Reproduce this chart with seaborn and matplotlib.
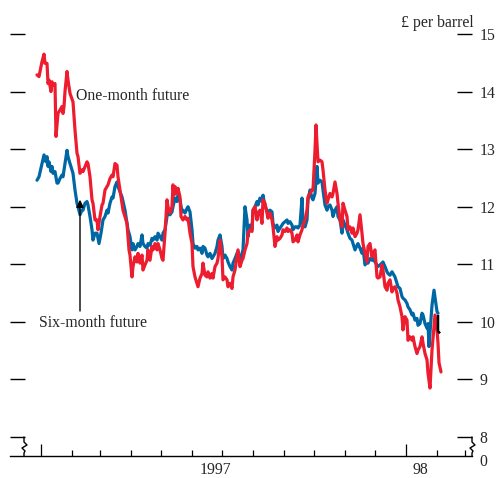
import numpy as np
import pandas as pd
import seaborn as sns
import matplotlib.pyplot as plt
import matplotlib.transforms as mtransforms

# days counted from 1 January 1997, prices in £ per barrel
one_month_days = [-4, -2, 1, 3, 4, 6, 7, 8, 10, 11, 12, 14, 15, 17, 19, 21, 22, 23, 24, 26,
                  27, 29, 32, 34, 36, 37, 39, 41, 42, 46, 47, 49, 51, 52, 54, 56, 57, 59, 61, 62,
                  64, 66, 67, 69, 71, 72, 74, 76, 77, 79, 82, 86, 88, 89, 91, 92, 94, 96, 97, 99,
                  101, 102, 104, 106, 107, 109, 111, 112, 114, 116, 117, 119, 121, 122, 124, 125, 126, 127, 129, 131,
                  132, 133, 134, 136, 137, 139, 140, 142, 144, 146, 147, 149, 151, 152, 154, 156, 157, 159, 161, 162,
                  164, 166, 167, 169, 171, 172, 174, 176, 177, 179, 181, 182, 184, 186, 187, 189, 191, 192, 194, 196,
                  197, 199, 201, 202, 204, 206, 207, 209, 211, 212, 214, 216, 217, 219, 221, 222, 224, 226, 227, 229,
                  231, 232, 234, 236, 237, 239, 241, 242, 244, 246, 247, 249, 251, 252, 254, 256, 257, 259, 261, 262,
                  264, 266, 267, 269, 271, 272, 274, 275, 277, 279, 281, 282, 284, 286, 287, 289, 291, 292, 294, 296,
                  297, 299, 301, 302, 304, 306, 307, 309, 311, 312, 314, 316, 317, 319, 321, 322, 324, 326, 327, 329,
                  331, 332, 334, 336, 337, 339, 341, 342, 344, 346, 347, 349, 351, 352, 354, 356, 357, 359, 361, 362,
                  364, 366, 367, 369, 371, 372, 374, 376, 377, 379, 381, 382, 384, 386, 387, 389, 391, 394, 396, 397,
                  398, 400]
one_month = [14.29, 14.26, 14.52, 14.65, 14.49, 14.49, 14.14, 14.20, 14.00, 14.17, 14.11, 14.14, 13.22, 13.62, 13.68, 13.74, 13.62, 13.74, 14.00, 14.35,
             14.20, 13.97, 13.82, 13.33, 12.93, 12.87, 12.58, 12.64, 12.61, 12.78, 12.75, 12.52, 12.12, 12.06, 11.77, 11.77, 11.60, 11.83, 12.03, 12.06,
             12.29, 12.35, 12.38, 12.49, 12.55, 12.52, 12.75, 12.72, 12.52, 12.29, 11.94, 11.71, 11.25, 11.16, 10.78, 10.96, 11.13, 11.04, 11.19, 11.02,
             11.16, 10.90, 10.99, 11.07, 11.25, 11.07, 11.31, 11.25, 11.36, 11.25, 11.36, 11.25, 11.10, 11.07, 11.54, 11.83, 12.12, 12.00, 11.89, 12.00,
             12.38, 12.20, 12.35, 12.23, 12.32, 12.17, 11.83, 11.77, 11.83, 11.77, 11.80, 11.54, 11.36, 10.96, 10.78, 10.67, 10.61, 10.76, 10.84, 11.02,
             10.81, 10.78, 10.87, 10.76, 10.84, 10.76, 10.96, 11.02, 11.10, 11.42, 11.13, 10.73, 10.78, 10.73, 10.61, 10.67, 10.58, 10.78, 10.90, 11.13,
             11.25, 10.96, 11.07, 11.10, 11.25, 11.36, 11.54, 11.60, 11.57, 11.94, 12.00, 11.77, 11.89, 11.94, 11.71, 12.12, 12.06, 11.89, 11.80, 11.89,
             11.77, 11.65, 11.31, 11.48, 11.42, 11.45, 11.51, 11.60, 11.57, 11.63, 11.57, 11.60, 11.54, 11.39, 11.42, 11.51, 11.39, 11.51, 11.60, 11.68,
             11.77, 11.94, 12.17, 12.23, 12.29, 12.29, 12.98, 13.42, 12.78, 12.81, 12.78, 12.64, 12.29, 12.06, 12.12, 12.23, 12.17, 12.23, 12.43, 12.23,
             12.06, 11.77, 11.65, 12.06, 11.94, 11.83, 11.60, 11.65, 11.54, 11.63, 11.48, 11.54, 11.60, 11.86, 11.54, 11.36, 11.19, 11.04, 11.31, 11.36,
             11.13, 11.19, 11.25, 10.78, 10.76, 10.78, 10.99, 10.90, 10.61, 10.55, 10.67, 10.73, 10.52, 10.58, 10.61, 10.50, 10.38, 10.26, 10.09, 9.86,
             10.09, 10.03, 9.68, 9.74, 9.68, 9.74, 9.57, 9.45, 9.51, 9.57, 9.74, 9.63, 9.45, 9.34, 9.11, 8.85, 9.51, 10.12, 9.86, 9.63,
             9.29, 9.13]

six_month_days = [-4, -2, 1, 3, 5, 6, 7, 8, 10, 11, 12, 14, 16, 17, 19, 21, 22, 24, 26, 27,
                  29, 32, 34, 36, 37, 39, 41, 42, 44, 46, 47, 49, 51, 52, 54, 56, 58, 60, 62, 64,
                  66, 67, 69, 71, 72, 74, 76, 77, 81, 84, 87, 89, 91, 92, 94, 96, 97, 99, 101, 102,
                  104, 106, 107, 109, 111, 112, 114, 116, 117, 119, 121, 122, 124, 126, 127, 129, 131, 132, 134, 136,
                  137, 139, 141, 142, 144, 146, 147, 149, 151, 152, 154, 156, 157, 159, 161, 162, 164, 166, 167, 169,
                  171, 172, 174, 176, 177, 179, 181, 182, 184, 186, 187, 189, 191, 192, 194, 196, 197, 199, 201, 202,
                  204, 206, 207, 209, 211, 212, 214, 216, 217, 219, 221, 222, 224, 226, 227, 229, 231, 232, 234, 236,
                  237, 239, 241, 242, 244, 246, 247, 249, 251, 252, 254, 256, 257, 259, 261, 262, 264, 266, 267, 269,
                  271, 272, 274, 276, 277, 279, 281, 282, 284, 286, 287, 289, 291, 292, 294, 296, 297, 299, 301, 302,
                  304, 306, 307, 309, 311, 312, 314, 316, 317, 319, 321, 322, 324, 326, 327, 329, 331, 332, 334, 337,
                  341, 342, 344, 346, 347, 349, 351, 352, 354, 356, 357, 359, 361, 362, 364, 366, 367, 369, 371, 372,
                  374, 376, 377, 379, 381, 382, 384, 386, 387, 388, 391, 393, 396, 397]
six_month = [12.46, 12.52, 12.75, 12.90, 12.78, 12.87, 12.70, 12.78, 12.61, 12.70, 12.58, 12.61, 12.41, 12.41, 12.49, 12.55, 12.52, 12.75, 12.98, 12.87,
             12.75, 12.58, 12.29, 12.06, 12.00, 11.86, 11.94, 11.94, 12.06, 12.09, 12.03, 11.83, 11.60, 11.42, 11.54, 11.54, 11.36, 11.54, 11.77, 11.83,
             11.94, 11.89, 12.06, 12.17, 12.15, 12.35, 12.43, 12.35, 12.17, 11.94, 11.60, 11.48, 11.25, 11.36, 11.25, 11.31, 11.36, 11.31, 11.51, 11.36,
             11.31, 11.28, 11.36, 11.33, 11.45, 11.42, 11.48, 11.42, 11.54, 11.48, 11.42, 11.54, 11.60, 11.83, 11.89, 11.86, 11.91, 12.00, 12.15, 12.09,
             12.20, 12.12, 11.91, 11.94, 11.89, 11.97, 12.00, 11.91, 11.60, 11.36, 11.28, 11.31, 11.25, 11.28, 11.19, 11.31, 11.28, 11.16, 11.13, 11.19,
             11.10, 11.13, 11.19, 11.31, 11.42, 11.51, 11.31, 11.10, 11.16, 11.10, 11.04, 10.96, 10.90, 11.02, 11.10, 11.19, 11.22, 11.07, 11.19, 11.25,
             12.00, 11.77, 11.48, 11.68, 11.60, 11.94, 12.00, 12.09, 12.03, 12.15, 12.09, 12.20, 12.00, 11.94, 11.86, 11.94, 11.91, 11.71, 11.63, 11.68,
             11.57, 11.63, 11.68, 11.71, 11.74, 11.77, 11.71, 11.74, 11.68, 11.60, 11.65, 11.65, 11.63, 11.68, 12.15, 11.71, 11.65, 11.77, 12.12, 12.29,
             12.15, 12.12, 12.23, 12.70, 12.41, 12.46, 12.43, 12.29, 12.03, 11.94, 12.00, 12.03, 11.94, 11.83, 11.94, 12.00, 11.83, 11.77, 11.54, 11.77,
             11.68, 11.60, 11.54, 11.45, 11.42, 11.36, 11.25, 11.33, 11.36, 11.28, 11.19, 11.28, 10.99, 11.04, 11.02, 11.10, 11.07, 11.10, 11.04, 10.96,
             11.02, 11.04, 10.96, 10.87, 10.84, 10.81, 10.87, 10.84, 10.78, 10.67, 10.61, 10.58, 10.44, 10.41, 10.38, 10.32, 10.26, 10.21, 10.12, 10.15,
             10.03, 10.06, 9.94, 9.97, 10.15, 10.12, 9.97, 9.89, 9.97, 9.57, 10.29, 10.55, 10.18, 10.15]

# small black marker at the end of the series
mark_days = [397, 397, 399]
mark_vals = [10.12, 9.84, 9.80]

y_ticks = [8, 9, 10, 11, 12, 13, 14, 15]
start = pd.Timestamp("1997-01-01")

def to_dates(days):
    return start + pd.to_timedelta(days, unit="D")

df = pd.concat([
    pd.DataFrame({"date": to_dates(one_month_days), "price": one_month, "series": "One-month future"}),
    pd.DataFrame({"date": to_dates(six_month_days), "price": six_month, "series": "Six-month future"}),
])

sns.set_theme(style="white")
plt.rcParams['font.family'] = ['Liberation Serif', 'DejaVu Serif']
fs = 11.3

fig = plt.figure(figsize=(4.99, 4.78), dpi=100)
ax = fig.add_axes([10 / 499, 22 / 478, 462 / 499, 422 / 478])

colors = {"Six-month future": "#0067A5", "One-month future": "#ED1C2E"}
sns.lineplot(data=df, x="date", y="price", hue="series", hue_order=["Six-month future", "One-month future"],
             palette=colors, estimator=None, sort=False, linewidth=2.3, legend=False, ax=ax)
ax.plot(to_dates(mark_days), mark_vals, color="black", lw=1.8, solid_capstyle="butt")

ax.set_xlim(pd.Timestamp("1996-12-01"), pd.Timestamp("1998-03-08"))
ax.set_ylim(7.67, 15)
ax.set_xlabel("")
ax.set_ylabel("")

for s in ["top", "left", "right"]:
    ax.spines[s].set_visible(False)
ax.spines["bottom"].set_color("black")
ax.spines["bottom"].set_linewidth(1.0)

ax.set_yticks(y_ticks)
ax.set_yticklabels([str(t) for t in y_ticks], fontsize=fs)
ax.tick_params(axis="y", left=True, right=True, labelleft=False, labelright=True,
               direction="in", length=10.8, width=1.0, color="black", pad=5.5)

ax.set_xticks([pd.Timestamp("1997-01-01"), pd.Timestamp("1998-01-01")])
ax.set_xticks(pd.date_range("1997-02-01", "1998-03-01", freq="MS"), minor=True)
ax.tick_params(axis="x", which="major", direction="in", length=8.6, width=0.9, color="black",
               bottom=True, labelbottom=False)
ax.tick_params(axis="x", which="minor", direction="in", length=4.3, width=0.9, color="black", bottom=True)
ax.grid(False)

trans = mtransforms.blended_transform_factory(ax.transData, ax.transAxes)
ax.text(pd.Timestamp("1997-06-24"), -0.033, "1997", ha="center", va="center", fontsize=fs, transform=trans)
ax.text(pd.Timestamp("1998-01-15"), -0.033, "98", ha="center", va="center", fontsize=fs, transform=trans)

ax.text(1.017, 0.004, "0", ha="left", va="top", fontsize=fs, transform=ax.transAxes,
        bbox=dict(boxstyle="square,pad=0", fc="none", ec="none"))
ax.text(1.004, 1.026, "£ per barrel", ha="right", va="center", fontsize=fs, transform=ax.transAxes)

# axis break zigzags
def px(x, y):
    return (x - 10) / 462, (456 - y) / 422

for x0 in [24, 472]:
    pts = [px(x0 + dx, y) for dx, y in [(0, 437), (0, 442), (3, 445), (-2, 448), (1, 451), (0, 453), (0, 456)]]
    ax.plot([p[0] for p in pts], [p[1] for p in pts], color="black", lw=1.0, transform=ax.transAxes, clip_on=False)

ax.text(start + pd.Timedelta(days=35), 13.92, "One-month future", ha="left", va="center", fontsize=fs)
ax.text(start + pd.Timedelta(days=-2), 9.98, "Six-month future", ha="left", va="center", fontsize=fs)
ax.annotate("", xy=(start + pd.Timedelta(days=39), 12.17), xytext=(start + pd.Timedelta(days=39), 10.14),
            arrowprops=dict(arrowstyle="-|>", color="black", lw=1.0, mutation_scale=11))

fig.savefig("out.png", dpi=100)
